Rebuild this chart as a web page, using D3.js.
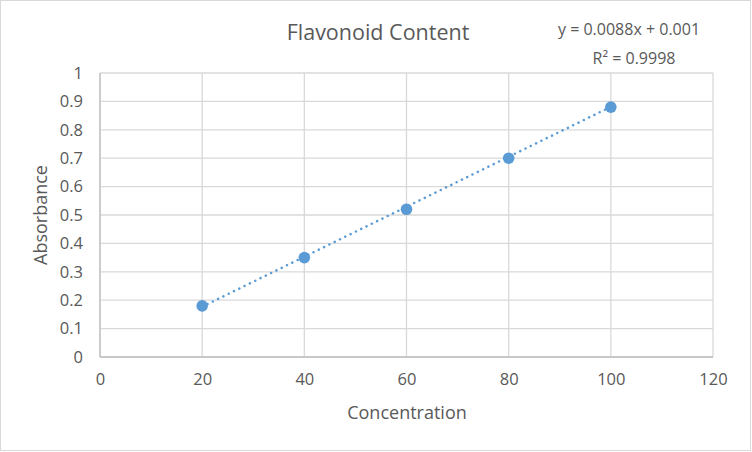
<!DOCTYPE html>
<html lang="en">
  <head>
    <meta charset="utf-8">
    <script src="https://cdn.jsdelivr.net/npm/d3@7"></script>
    <style>
      body { margin: 0; background: #fff; }
      text { font-family: "Open Sans", "Noto Sans", sans-serif; fill: #595959; }
      .grid line { stroke: #d9d9d9; stroke-width: 1.3; }
      .axis path, .axis line { display: none; }
      .axis text { font-size: 16.5px; fill: #595959; }
    </style>
    <title>Flavonoid Content</title>
  </head>
  <body>
    <script>
      var width = 752, height = 452;

      var concentration = [20, 40, 60, 80, 100];
      var absorbance = [0.18, 0.35, 0.52, 0.70, 0.88];
      var xTicks = [0, 20, 40, 60, 80, 100, 120];
      var yTicks = [0, 0.1, 0.2, 0.3, 0.4, 0.5, 0.6, 0.7, 0.8, 0.9, 1];
      var slope = 0.0088, intercept = 0.001;
      var eqLabel = "y = 0.0088x + 0.001";
      var r2Label = "R² = 0.9998";

      var margin = {left: 100, right: 39, top: 73, bottom: 95};

      var x = d3.scaleLinear().domain([0, 120]).range([margin.left, width - margin.right]);
      var y = d3.scaleLinear().domain([0, 1]).range([height - margin.bottom, margin.top]);

      var svg = d3.select("body").append("svg").attr("width", width).attr("height", height);

      // chart border
      svg.append("rect").attr("x", 0.5).attr("y", 0.5)
        .attr("width", width - 2).attr("height", height - 2)
        .attr("fill", "#fff").attr("stroke", "#d9d9d9");

      // gridlines
      var grid = svg.append("g").attr("class", "grid");
      grid.selectAll("line.h").data(yTicks).enter().append("line").attr("class", "h")
        .attr("x1", x(0)).attr("x2", x(120))
        .attr("y1", function(d){ return y(d); }).attr("y2", function(d){ return y(d); });
      grid.selectAll("line.v").data(xTicks).enter().append("line").attr("class", "v")
        .attr("y1", y(0)).attr("y2", y(1))
        .attr("x1", function(d){ return x(d); }).attr("x2", function(d){ return x(d); });

      // axis lines
      svg.append("line").attr("x1", x(0)).attr("x2", x(0)).attr("y1", y(0)).attr("y2", y(1))
        .attr("stroke", "#bfbfbf").attr("stroke-width", 1.3);
      svg.append("line").attr("x1", x(0)).attr("x2", x(120)).attr("y1", y(0)).attr("y2", y(0))
        .attr("stroke", "#bfbfbf").attr("stroke-width", 1.3);

      // axes (labels only)
      svg.append("g").attr("class", "axis")
        .attr("transform", "translate(0," + y(0) + ")")
        .call(d3.axisBottom(x).tickValues(xTicks).tickSize(0).tickPadding(16).tickFormat(d3.format("d")));
      svg.append("g").attr("class", "axis")
        .attr("transform", "translate(" + x(0) + ",0)")
        .call(d3.axisLeft(y).tickValues(yTicks).tickSize(0).tickPadding(17).tickFormat(function(d){ return String(+d.toFixed(1)); }));

      // trendline
      svg.append("line")
        .attr("x1", x(concentration[0])).attr("y1", y(slope * concentration[0] + intercept))
        .attr("x2", x(concentration[concentration.length - 1]))
        .attr("y2", y(slope * concentration[concentration.length - 1] + intercept))
        .attr("stroke", "#5b9bd5").attr("stroke-width", 2.5)
        .attr("stroke-linecap", "round").attr("stroke-dasharray", "0.1 5.8");

      // points
      svg.append("g").selectAll("circle")
        .data(concentration.map(function(c, i){ return [c, absorbance[i]]; }))
        .enter().append("circle")
        .attr("cx", function(d){ return x(d[0]); })
        .attr("cy", function(d){ return y(d[1]); })
        .attr("r", 5.8).attr("fill", "#5b9bd5");

      // titles
      svg.append("text").attr("x", 378).attr("y", 40).attr("text-anchor", "middle")
        .style("font-size", "21.5px").text("Flavonoid Content");
      svg.append("text").attr("x", 407).attr("y", 419).attr("text-anchor", "middle")
        .style("font-size", "18px").text("Concentration");
      svg.append("text").attr("transform", "translate(47,215) rotate(-90)").attr("text-anchor", "middle")
        .style("font-size", "18px").text("Absorbance");

      // equation label
      svg.append("text").attr("x", 629).attr("y", 35).attr("text-anchor", "middle")
        .style("font-size", "16px").text(eqLabel);
      svg.append("text").attr("x", 634).attr("y", 64).attr("text-anchor", "middle")
        .style("font-size", "16px").text(r2Label);
    </script>
  </body>
</html>
